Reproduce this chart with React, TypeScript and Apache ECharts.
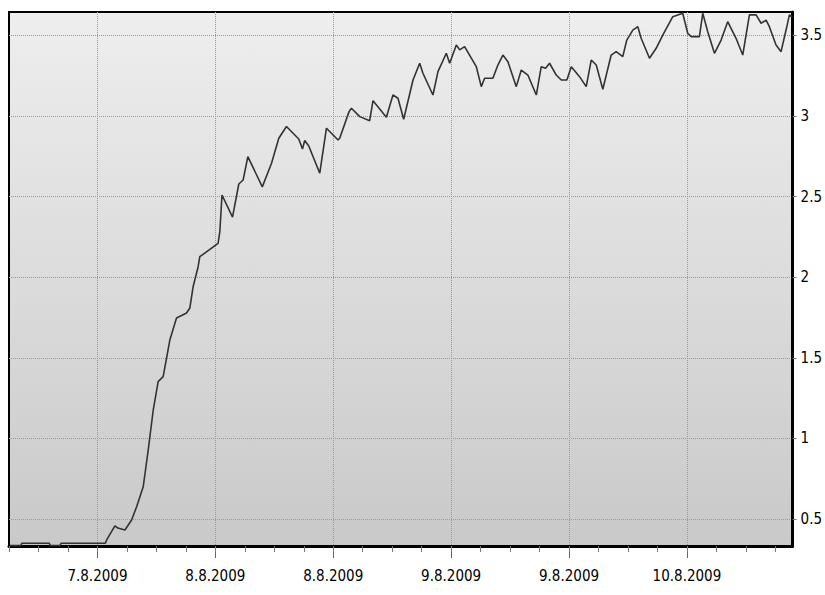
import React, { useEffect, useRef } from "react";
import * as echarts from "echarts";

// time in hours (12 = 7.8.2009 tick), value
const hours = [
  3.1, 4.2, 4.3, 7.1, 7.2, 8.2, 8.3, 12.8, 12.94, 13.78, 14.08, 14.8, 15.48, 15.99, 16.66, 17.17,
  17.68, 18.18, 18.69, 19.37, 20.05, 21.07, 21.41, 21.74, 22.25, 22.42, 24.28, 24.46, 24.68, 25.75,
  26.39, 26.83, 27.31, 28.78, 29.72, 30.46, 31.24, 32.49, 32.87, 33.1, 33.51, 34.63, 35.31, 36.49,
  36.66, 37.61, 37.85, 38.7, 39.71, 40.05, 41.41, 42.08, 42.59, 43.17, 44.12, 44.8, 45.13, 46.15,
  46.66, 47.51, 47.85, 48.53, 48.87, 49.37, 50.56, 51.07, 51.41, 52.25, 52.76, 53.27, 53.78, 54.63,
  55.14, 55.81, 56.67, 57.17, 57.61, 58.02, 58.7, 59.21, 59.78, 60.23, 61.07, 61.75, 62.26, 62.77,
  63.44, 64.29, 64.8, 65.47, 65.88, 66.49, 67.0, 67.34, 68.19, 68.87, 69.54, 70.56, 71.07, 71.57,
  72.08, 72.43, 73.27, 73.61, 74.12, 74.8, 75.48, 76.15, 77.0, 77.68, 78.36, 79.04, 79.55, 80.06,
  80.39, 81.07, 81.58, 82.09, 82.43, 82.73,
];
const values = [
  0.335, 0.335, 0.35, 0.35, 0.335, 0.335, 0.35, 0.35, 0.37, 0.457, 0.444, 0.432, 0.494, 0.576, 0.7, 0.928,
  1.176, 1.352, 1.383, 1.61, 1.747, 1.778, 1.809, 1.941, 2.065, 2.127, 2.21, 2.282, 2.51, 2.373,
  2.578, 2.603, 2.748, 2.56, 2.707, 2.862, 2.935, 2.857, 2.795, 2.848, 2.814, 2.645, 2.924, 2.851,
  2.862, 3.027, 3.048, 2.996, 2.971, 3.095, 2.992, 3.13, 3.11, 2.98, 3.223, 3.327, 3.265, 3.13,
  3.275, 3.389, 3.327, 3.44, 3.41, 3.43, 3.306, 3.182, 3.234, 3.234, 3.316, 3.378, 3.337, 3.182,
  3.285, 3.254, 3.13, 3.306, 3.296, 3.327, 3.254, 3.223, 3.223, 3.306, 3.244, 3.182, 3.347, 3.316,
  3.166, 3.378, 3.399, 3.368, 3.471, 3.533, 3.554, 3.482, 3.358, 3.42, 3.502, 3.616, 3.627, 3.637,
  3.513, 3.492, 3.492, 3.637, 3.523, 3.389, 3.471, 3.585, 3.482, 3.378, 3.627, 3.627, 3.575, 3.595,
  3.554, 3.44, 3.399, 3.533, 3.627, 3.616,
];

const xLabelHours = [12, 24, 36, 48, 60, 72];
const xLabels = ["7.8.2009", "8.8.2009", "8.8.2009", "9.8.2009", "9.8.2009", "10.8.2009"];
const minorTickHours = [3, 6, 9, 12, 15, 18, 21, 24, 27, 30, 33, 36, 39, 42, 45, 48, 51, 54, 57, 60, 63, 66, 69, 72, 75, 78, 81];
const yTickValues = [0.5, 1, 1.5, 2, 2.5, 3, 3.5];
const yTickLabels = ["0.5", "1", "1.5", "2", "2.5", "3", "3.5"];

const X_MIN = 3;
const X_MAX = 82.75;
const Y_MIN = 0.3325;
const Y_MAX = 3.645;

const FONT = "'DejaVu Sans Condensed', 'DejaVu Sans', sans-serif";

export default function App() {
  const ref = useRef<HTMLDivElement>(null);

  useEffect(() => {
    if (!ref.current) return;
    const chart = echarts.init(ref.current, null, { renderer: "svg" });
    const data = hours.map((h, i) => [h, values[i]]);
    const grid = { left: 9, top: 12, width: 784, height: 534 };
    chart.setOption({
      animation: false,
      backgroundColor: "#ffffff",
      grid: {
        ...grid,
        show: true,
        borderColor: "#000",
        borderWidth: 2,
        backgroundColor: new echarts.graphic.LinearGradient(0, 0, 0, 1, [
          { offset: 0, color: "#eeeeee" },
          { offset: 1, color: "#c9c9c9" },
        ]),
      },
      xAxis: [
        {
          type: "value",
          position: "bottom",
          min: X_MIN,
          max: X_MAX,
          axisLine: { show: true, onZero: false, lineStyle: { color: "#000", width: 3 } },
          axisTick: {
            show: true,
            customValues: xLabelHours,
            length: 12,
            lineStyle: { color: "#666", width: 1 },
          },
          axisLabel: {
            show: true,
            customValues: xLabelHours,
            margin: 22,
            fontFamily: FONT,
            fontSize: 15,
            color: "#000",
            formatter: (v: number) => {
              const i = xLabelHours.indexOf(Math.round(v));
              return i >= 0 ? xLabels[i] : "";
            },
          },
          splitLine: { show: true, lineStyle: { color: "#9a9a9a", type: "dotted", width: 1 } },
        },
        {
          type: "value",
          position: "bottom",
          min: X_MIN,
          max: X_MAX,
          axisLine: { show: false },
          axisTick: {
            show: true,
            customValues: minorTickHours,
            length: 6,
            lineStyle: { color: "#777", width: 1 },
          },
          axisLabel: { show: false },
          splitLine: { show: false },
        },
      ],
      yAxis: {
        type: "value",
        position: "right",
        min: Y_MIN,
        max: Y_MAX,
        axisLine: { show: true, onZero: false, lineStyle: { color: "#000", width: 3 } },
        axisTick: { show: true, customValues: yTickValues, length: 4, lineStyle: { color: "#777" } },
        axisLabel: {
          show: true,
          customValues: yTickValues,
          margin: 8,
          fontFamily: FONT,
          fontSize: 15,
          color: "#000",
          formatter: (v: number) => {
            const i = yTickValues.findIndex((t) => Math.abs(t - v) < 1e-6);
            return i >= 0 ? yTickLabels[i] : "";
          },
        },
        splitLine: { show: true, lineStyle: { color: "#9a9a9a", type: "dotted", width: 1 } },
      },
      series: [
        {
          type: "line",
          xAxisIndex: 0,
          data,
          showSymbol: false,
          symbol: "none",
          smooth: false,
          clip: true,
          lineStyle: { color: "#333333", width: 1.6 },
        },
      ],
    });
    return () => chart.dispose();
  }, []);

  return (
    <div
      ref={ref}
      style={{ position: "fixed", left: 0, top: 0, width: 825, height: 595 }}
    />
  );
}
